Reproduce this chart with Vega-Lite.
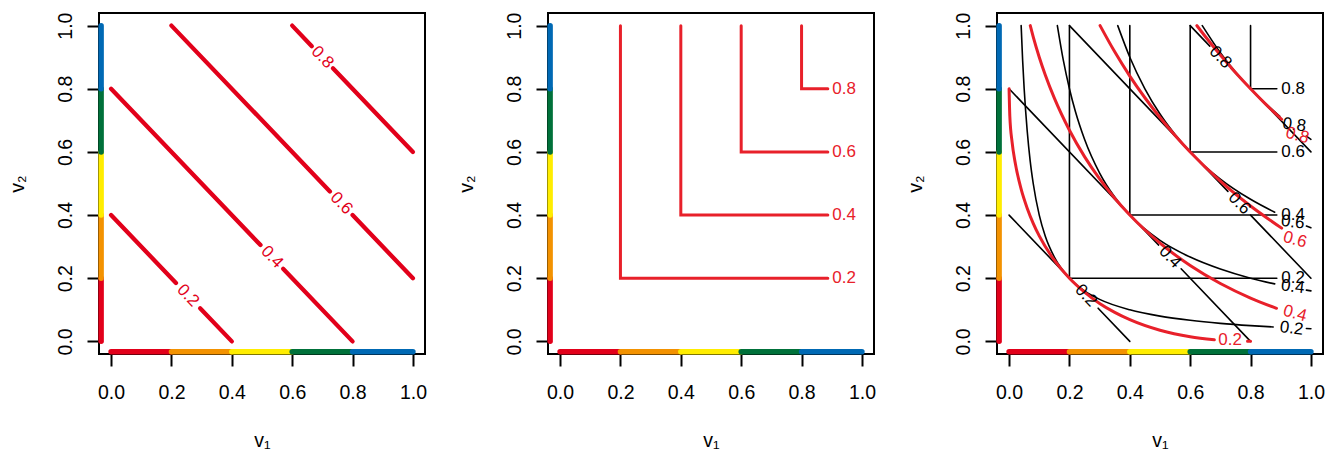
{
  "$schema": "https://vega.github.io/schema/vega-lite/v6.json",
  "background": "white",
  "padding": {"left": 6, "top": 11, "right": 5, "bottom": 0},
  "spacing": 123,
  "bounds": "flush",
  "datasets": {
    "rug": [
      {"lo": 0, "hi": 0.2, "band": "0.0–0.2"},
      {"lo": 0.2, "hi": 0.4, "band": "0.2–0.4"},
      {"lo": 0.4, "hi": 0.6, "band": "0.4–0.6"},
      {"lo": 0.6, "hi": 0.8, "band": "0.6–0.8"},
      {"lo": 0.8, "hi": 1, "band": "0.8–1.0"}
    ],
    "curves": [
      {"fam": "mean", "seg": "m2a", "x": 0, "y": 0.4}, {"fam": "mean", "seg": "m2a", "x": 0.215, "y": 0.185},
      {"fam": "mean", "seg": "m2b", "x": 0.295, "y": 0.105}, {"fam": "mean", "seg": "m2b", "x": 0.4, "y": 0},
      {"fam": "mean", "seg": "m4a", "x": 0, "y": 0.8}, {"fam": "mean", "seg": "m4a", "x": 0.495, "y": 0.305},
      {"fam": "mean", "seg": "m4b", "x": 0.57, "y": 0.23}, {"fam": "mean", "seg": "m4b", "x": 0.8, "y": 0},
      {"fam": "mean", "seg": "m6a", "x": 0.2, "y": 1}, {"fam": "mean", "seg": "m6a", "x": 0.725, "y": 0.475},
      {"fam": "mean", "seg": "m6b", "x": 0.8, "y": 0.4}, {"fam": "mean", "seg": "m6b", "x": 1, "y": 0.2},
      {"fam": "mean", "seg": "m8a", "x": 0.6, "y": 1}, {"fam": "mean", "seg": "m8a", "x": 0.665, "y": 0.935},
      {"fam": "mean", "seg": "m8b", "x": 0.735, "y": 0.865}, {"fam": "mean", "seg": "m8b", "x": 1, "y": 0.6},

      {"fam": "min", "seg": "n2", "i": 0, "x": 0.2, "y": 1}, {"fam": "min", "seg": "n2", "i": 1, "x": 0.2, "y": 0.2}, {"fam": "min", "seg": "n2", "i": 2, "x": 0.887, "y": 0.2},
      {"fam": "min", "seg": "n4", "i": 0, "x": 0.4, "y": 1}, {"fam": "min", "seg": "n4", "i": 1, "x": 0.4, "y": 0.4}, {"fam": "min", "seg": "n4", "i": 2, "x": 0.887, "y": 0.4},
      {"fam": "min", "seg": "n6", "i": 0, "x": 0.6, "y": 1}, {"fam": "min", "seg": "n6", "i": 1, "x": 0.6, "y": 0.6}, {"fam": "min", "seg": "n6", "i": 2, "x": 0.887, "y": 0.6},
      {"fam": "min", "seg": "n8", "i": 0, "x": 0.8, "y": 1}, {"fam": "min", "seg": "n8", "i": 1, "x": 0.8, "y": 0.8}, {"fam": "min", "seg": "n8", "i": 2, "x": 0.887, "y": 0.8},

      {"fam": "geo", "seg": "g2a", "x": 0.04, "y": 1}, {"fam": "geo", "seg": "g2a", "x": 0.045, "y": 0.889}, {"fam": "geo", "seg": "g2a", "x": 0.05, "y": 0.8},
      {"fam": "geo", "seg": "g2a", "x": 0.06, "y": 0.667}, {"fam": "geo", "seg": "g2a", "x": 0.07, "y": 0.571}, {"fam": "geo", "seg": "g2a", "x": 0.08, "y": 0.5},
      {"fam": "geo", "seg": "g2a", "x": 0.1, "y": 0.4}, {"fam": "geo", "seg": "g2a", "x": 0.12, "y": 0.333}, {"fam": "geo", "seg": "g2a", "x": 0.15, "y": 0.267},
      {"fam": "geo", "seg": "g2a", "x": 0.2, "y": 0.2}, {"fam": "geo", "seg": "g2a", "x": 0.25, "y": 0.16}, {"fam": "geo", "seg": "g2a", "x": 0.3, "y": 0.133},
      {"fam": "geo", "seg": "g2a", "x": 0.4, "y": 0.1}, {"fam": "geo", "seg": "g2a", "x": 0.5, "y": 0.08}, {"fam": "geo", "seg": "g2a", "x": 0.6, "y": 0.0667},
      {"fam": "geo", "seg": "g2a", "x": 0.7, "y": 0.0571}, {"fam": "geo", "seg": "g2a", "x": 0.8, "y": 0.05}, {"fam": "geo", "seg": "g2a", "x": 0.875, "y": 0.0457},
      {"fam": "geo", "seg": "g2b", "x": 0.985, "y": 0.0406}, {"fam": "geo", "seg": "g2b", "x": 1, "y": 0.04},
      {"fam": "geo", "seg": "g4a", "x": 0.16, "y": 1}, {"fam": "geo", "seg": "g4a", "x": 0.18, "y": 0.889}, {"fam": "geo", "seg": "g4a", "x": 0.2, "y": 0.8},
      {"fam": "geo", "seg": "g4a", "x": 0.22, "y": 0.727}, {"fam": "geo", "seg": "g4a", "x": 0.25, "y": 0.64}, {"fam": "geo", "seg": "g4a", "x": 0.3, "y": 0.533},
      {"fam": "geo", "seg": "g4a", "x": 0.35, "y": 0.457}, {"fam": "geo", "seg": "g4a", "x": 0.4, "y": 0.4}, {"fam": "geo", "seg": "g4a", "x": 0.5, "y": 0.32},
      {"fam": "geo", "seg": "g4a", "x": 0.6, "y": 0.267}, {"fam": "geo", "seg": "g4a", "x": 0.7, "y": 0.229}, {"fam": "geo", "seg": "g4a", "x": 0.8, "y": 0.2},
      {"fam": "geo", "seg": "g4a", "x": 0.88, "y": 0.182},
      {"fam": "geo", "seg": "g4b", "x": 0.985, "y": 0.1624}, {"fam": "geo", "seg": "g4b", "x": 1, "y": 0.16},
      {"fam": "geo", "seg": "g6a", "x": 0.36, "y": 1}, {"fam": "geo", "seg": "g6a", "x": 0.4, "y": 0.9}, {"fam": "geo", "seg": "g6a", "x": 0.45, "y": 0.8},
      {"fam": "geo", "seg": "g6a", "x": 0.5, "y": 0.72}, {"fam": "geo", "seg": "g6a", "x": 0.55, "y": 0.655}, {"fam": "geo", "seg": "g6a", "x": 0.6, "y": 0.6},
      {"fam": "geo", "seg": "g6a", "x": 0.7, "y": 0.514}, {"fam": "geo", "seg": "g6a", "x": 0.8, "y": 0.45}, {"fam": "geo", "seg": "g6a", "x": 0.88, "y": 0.409},
      {"fam": "geo", "seg": "g6b", "x": 0.985, "y": 0.3655}, {"fam": "geo", "seg": "g6b", "x": 1, "y": 0.36},
      {"fam": "geo", "seg": "g8a", "x": 0.64, "y": 1}, {"fam": "geo", "seg": "g8a", "x": 0.7, "y": 0.914}, {"fam": "geo", "seg": "g8a", "x": 0.75, "y": 0.853},
      {"fam": "geo", "seg": "g8a", "x": 0.8, "y": 0.8}, {"fam": "geo", "seg": "g8a", "x": 0.85, "y": 0.753}, {"fam": "geo", "seg": "g8a", "x": 0.897, "y": 0.713},
      {"fam": "geo", "seg": "g8b", "x": 0.985, "y": 0.65}, {"fam": "geo", "seg": "g8b", "x": 1, "y": 0.64},

      {"fam": "sqrt", "seg": "s2a", "x": 0, "y": 0.8}, {"fam": "sqrt", "seg": "s2a", "x": 0.0025, "y": 0.713}, {"fam": "sqrt", "seg": "s2a", "x": 0.01, "y": 0.631},
      {"fam": "sqrt", "seg": "s2a", "x": 0.02, "y": 0.567}, {"fam": "sqrt", "seg": "s2a", "x": 0.04, "y": 0.482}, {"fam": "sqrt", "seg": "s2a", "x": 0.06, "y": 0.422},
      {"fam": "sqrt", "seg": "s2a", "x": 0.08, "y": 0.374}, {"fam": "sqrt", "seg": "s2a", "x": 0.1, "y": 0.334}, {"fam": "sqrt", "seg": "s2a", "x": 0.15, "y": 0.257},
      {"fam": "sqrt", "seg": "s2a", "x": 0.2, "y": 0.2}, {"fam": "sqrt", "seg": "s2a", "x": 0.25, "y": 0.156}, {"fam": "sqrt", "seg": "s2a", "x": 0.3, "y": 0.12},
      {"fam": "sqrt", "seg": "s2a", "x": 0.35, "y": 0.0917}, {"fam": "sqrt", "seg": "s2a", "x": 0.4, "y": 0.0686}, {"fam": "sqrt", "seg": "s2a", "x": 0.5, "y": 0.0351},
      {"fam": "sqrt", "seg": "s2a", "x": 0.6, "y": 0.0144}, {"fam": "sqrt", "seg": "s2a", "x": 0.68, "y": 0.0049},
      {"fam": "sqrt", "seg": "s2b", "x": 0.79, "y": 0.0001}, {"fam": "sqrt", "seg": "s2b", "x": 0.8, "y": 0},
      {"fam": "sqrt", "seg": "s4", "x": 0.0702, "y": 1}, {"fam": "sqrt", "seg": "s4", "x": 0.08, "y": 0.9645}, {"fam": "sqrt", "seg": "s4", "x": 0.1, "y": 0.9},
      {"fam": "sqrt", "seg": "s4", "x": 0.12, "y": 0.8436}, {"fam": "sqrt", "seg": "s4", "x": 0.15, "y": 0.7702}, {"fam": "sqrt", "seg": "s4", "x": 0.2, "y": 0.6686},
      {"fam": "sqrt", "seg": "s4", "x": 0.25, "y": 0.5851}, {"fam": "sqrt", "seg": "s4", "x": 0.3, "y": 0.5144}, {"fam": "sqrt", "seg": "s4", "x": 0.35, "y": 0.4533},
      {"fam": "sqrt", "seg": "s4", "x": 0.4, "y": 0.4}, {"fam": "sqrt", "seg": "s4", "x": 0.5, "y": 0.3111}, {"fam": "sqrt", "seg": "s4", "x": 0.6, "y": 0.2404},
      {"fam": "sqrt", "seg": "s4", "x": 0.7, "y": 0.1834}, {"fam": "sqrt", "seg": "s4", "x": 0.8, "y": 0.1373}, {"fam": "sqrt", "seg": "s4", "x": 0.886, "y": 0.1047},
      {"fam": "sqrt", "seg": "s6", "x": 0.3015, "y": 1}, {"fam": "sqrt", "seg": "s6", "x": 0.35, "y": 0.917}, {"fam": "sqrt", "seg": "s6", "x": 0.4, "y": 0.8403},
      {"fam": "sqrt", "seg": "s6", "x": 0.45, "y": 0.7716}, {"fam": "sqrt", "seg": "s6", "x": 0.5, "y": 0.7091}, {"fam": "sqrt", "seg": "s6", "x": 0.55, "y": 0.6522},
      {"fam": "sqrt", "seg": "s6", "x": 0.6, "y": 0.6}, {"fam": "sqrt", "seg": "s6", "x": 0.7, "y": 0.5077}, {"fam": "sqrt", "seg": "s6", "x": 0.8, "y": 0.4288},
      {"fam": "sqrt", "seg": "s6", "x": 0.903, "y": 0.3587},
      {"fam": "sqrt", "seg": "s8", "x": 0.6222, "y": 1}, {"fam": "sqrt", "seg": "s8", "x": 0.65, "y": 0.9657}, {"fam": "sqrt", "seg": "s8", "x": 0.7, "y": 0.9067},
      {"fam": "sqrt", "seg": "s8", "x": 0.75, "y": 0.8517}, {"fam": "sqrt", "seg": "s8", "x": 0.8, "y": 0.8001}, {"fam": "sqrt", "seg": "s8", "x": 0.85, "y": 0.7515},
      {"fam": "sqrt", "seg": "s8", "x": 0.903, "y": 0.7033}
    ],
    "labels": [
      {"fam": "mean", "lev": 0.2, "x": 0.255, "y": 0.145},
      {"fam": "mean", "lev": 0.4, "x": 0.533, "y": 0.267},
      {"fam": "mean", "lev": 0.6, "x": 0.763, "y": 0.437},
      {"fam": "mean", "lev": 0.8, "x": 0.7, "y": 0.9},
      {"fam": "min", "lev": 0.2, "x": 0.941, "y": 0.2},
      {"fam": "min", "lev": 0.4, "x": 0.941, "y": 0.4},
      {"fam": "min", "lev": 0.6, "x": 0.941, "y": 0.6},
      {"fam": "min", "lev": 0.8, "x": 0.941, "y": 0.8},
      {"fam": "geo", "lev": 0.2, "x": 0.936, "y": 0.041},
      {"fam": "geo", "lev": 0.4, "x": 0.94, "y": 0.173},
      {"fam": "geo", "lev": 0.6, "x": 0.94, "y": 0.377},
      {"fam": "geo", "lev": 0.8, "x": 0.945, "y": 0.685},
      {"fam": "sqrt", "lev": 0.2, "x": 0.732, "y": 0.004},
      {"fam": "sqrt", "lev": 0.4, "x": 0.947, "y": 0.088},
      {"fam": "sqrt", "lev": 0.6, "x": 0.947, "y": 0.322},
      {"fam": "sqrt", "lev": 0.8, "x": 0.955, "y": 0.652}
    ]
  },
  "hconcat": [
    {
      "width": 326, "height": 341,
      "layer": [
        {"data": {"name": "rug"}, "mark": {"type": "rule", "strokeWidth": 5.5, "strokeCap": "round"},
         "encoding": {
           "x": {"field": "lo", "type": "quantitative", "scale": {"domain": [-0.04, 1.04], "nice": false, "zero": false}},
           "x2": {"field": "hi"},
           "y": {"datum": -0.033, "type": "quantitative", "scale": {"domain": [-0.04, 1.04], "nice": false, "zero": false}},
           "color": {"field": "band", "type": "nominal", "legend": null, "scale": {"domain": ["0.0–0.2", "0.2–0.4", "0.4–0.6", "0.6–0.8", "0.8–1.0"], "range": ["#E2001A", "#F39200", "#FFED00", "#00713A", "#0069B4"]}}}},
        {"data": {"name": "rug"}, "mark": {"type": "rule", "strokeWidth": 5.5, "strokeCap": "round"},
         "encoding": {
           "y": {"field": "lo", "type": "quantitative", "scale": {"domain": [-0.04, 1.04], "nice": false, "zero": false}},
           "y2": {"field": "hi"},
           "x": {"datum": -0.033, "type": "quantitative", "scale": {"domain": [-0.04, 1.04], "nice": false, "zero": false}},
           "color": {"field": "band", "type": "nominal", "legend": null, "scale": {"domain": ["0.0–0.2", "0.2–0.4", "0.4–0.6", "0.6–0.8", "0.8–1.0"], "range": ["#E2001A", "#F39200", "#FFED00", "#00713A", "#0069B4"]}}}},
        {"data": {"name": "curves"}, "transform": [{"filter": "datum.fam === 'mean'"}],
         "mark": {"type": "line", "color": "#E2001A", "strokeWidth": 4.3, "strokeCap": "round"},
         "encoding": {
           "x": {"field": "x", "type": "quantitative", "scale": {"domain": [-0.04, 1.04], "nice": false, "zero": false}, "axis": {"values": [0, 0.2, 0.4, 0.6, 0.8, 1], "format": ".1f", "title": "v₁"}},
           "y": {"field": "y", "type": "quantitative", "scale": {"domain": [-0.04, 1.04], "nice": false, "zero": false}, "axis": {"values": [0, 0.2, 0.4, 0.6, 0.8, 1], "format": ".1f", "title": "v₂"}},
           "detail": {"field": "seg"}}},
        {"data": {"name": "labels"}, "transform": [{"filter": "datum.fam === 'mean'"}],
         "mark": {"type": "text", "angle": 46, "fontSize": 17, "color": "#E2001A", "align": "center", "baseline": "middle"},
         "encoding": {
           "x": {"field": "x", "type": "quantitative", "scale": {"domain": [-0.04, 1.04], "nice": false, "zero": false}},
           "y": {"field": "y", "type": "quantitative", "scale": {"domain": [-0.04, 1.04], "nice": false, "zero": false}},
           "text": {"field": "lev", "type": "quantitative", "format": ".1f"}}}
      ]
    },
    {
      "width": 326, "height": 341,
      "layer": [
        {"data": {"name": "rug"}, "mark": {"type": "rule", "strokeWidth": 5.5, "strokeCap": "round"},
         "encoding": {
           "x": {"field": "lo", "type": "quantitative", "scale": {"domain": [-0.04, 1.04], "nice": false, "zero": false}},
           "x2": {"field": "hi"},
           "y": {"datum": -0.033, "type": "quantitative", "scale": {"domain": [-0.04, 1.04], "nice": false, "zero": false}},
           "color": {"field": "band", "type": "nominal", "legend": null, "scale": {"domain": ["0.0–0.2", "0.2–0.4", "0.4–0.6", "0.6–0.8", "0.8–1.0"], "range": ["#E2001A", "#F39200", "#FFED00", "#00713A", "#0069B4"]}}}},
        {"data": {"name": "rug"}, "mark": {"type": "rule", "strokeWidth": 5.5, "strokeCap": "round"},
         "encoding": {
           "y": {"field": "lo", "type": "quantitative", "scale": {"domain": [-0.04, 1.04], "nice": false, "zero": false}},
           "y2": {"field": "hi"},
           "x": {"datum": -0.033, "type": "quantitative", "scale": {"domain": [-0.04, 1.04], "nice": false, "zero": false}},
           "color": {"field": "band", "type": "nominal", "legend": null, "scale": {"domain": ["0.0–0.2", "0.2–0.4", "0.4–0.6", "0.6–0.8", "0.8–1.0"], "range": ["#E2001A", "#F39200", "#FFED00", "#00713A", "#0069B4"]}}}},
        {"data": {"name": "curves"}, "transform": [{"filter": "datum.fam === 'min'"}],
         "mark": {"type": "line", "color": "#E8202A", "strokeWidth": 3, "strokeCap": "round", "strokeJoin": "miter"},
         "encoding": {
           "x": {"field": "x", "type": "quantitative", "scale": {"domain": [-0.04, 1.04], "nice": false, "zero": false}, "axis": {"values": [0, 0.2, 0.4, 0.6, 0.8, 1], "format": ".1f", "title": "v₁"}},
           "y": {"field": "y", "type": "quantitative", "scale": {"domain": [-0.04, 1.04], "nice": false, "zero": false}, "axis": {"values": [0, 0.2, 0.4, 0.6, 0.8, 1], "format": ".1f", "title": "v₂"}},
           "detail": {"field": "seg"},
           "order": {"field": "i", "type": "quantitative"}}},
        {"data": {"name": "labels"}, "transform": [{"filter": "datum.fam === 'min'"}],
         "mark": {"type": "text", "fontSize": 17, "color": "#E8202A", "align": "center", "baseline": "middle"},
         "encoding": {
           "x": {"field": "x", "type": "quantitative", "scale": {"domain": [-0.04, 1.04], "nice": false, "zero": false}},
           "y": {"field": "y", "type": "quantitative", "scale": {"domain": [-0.04, 1.04], "nice": false, "zero": false}},
           "text": {"field": "lev", "type": "quantitative", "format": ".1f"}}}
      ]
    },
    {
      "width": 326, "height": 341,
      "layer": [
        {"data": {"name": "rug"}, "mark": {"type": "rule", "strokeWidth": 5.5, "strokeCap": "round"},
         "encoding": {
           "x": {"field": "lo", "type": "quantitative", "scale": {"domain": [-0.04, 1.04], "nice": false, "zero": false}},
           "x2": {"field": "hi"},
           "y": {"datum": -0.033, "type": "quantitative", "scale": {"domain": [-0.04, 1.04], "nice": false, "zero": false}},
           "color": {"field": "band", "type": "nominal", "legend": null, "scale": {"domain": ["0.0–0.2", "0.2–0.4", "0.4–0.6", "0.6–0.8", "0.8–1.0"], "range": ["#E2001A", "#F39200", "#FFED00", "#00713A", "#0069B4"]}}}},
        {"data": {"name": "rug"}, "mark": {"type": "rule", "strokeWidth": 5.5, "strokeCap": "round"},
         "encoding": {
           "y": {"field": "lo", "type": "quantitative", "scale": {"domain": [-0.04, 1.04], "nice": false, "zero": false}},
           "y2": {"field": "hi"},
           "x": {"datum": -0.033, "type": "quantitative", "scale": {"domain": [-0.04, 1.04], "nice": false, "zero": false}},
           "color": {"field": "band", "type": "nominal", "legend": null, "scale": {"domain": ["0.0–0.2", "0.2–0.4", "0.4–0.6", "0.6–0.8", "0.8–1.0"], "range": ["#E2001A", "#F39200", "#FFED00", "#00713A", "#0069B4"]}}}},
        {"data": {"name": "curves"}, "transform": [{"filter": "datum.fam === 'mean'"}],
         "mark": {"type": "line", "color": "black", "strokeWidth": 1.6, "strokeCap": "round"},
         "encoding": {
           "x": {"field": "x", "type": "quantitative", "scale": {"domain": [-0.04, 1.04], "nice": false, "zero": false}, "axis": {"values": [0, 0.2, 0.4, 0.6, 0.8, 1], "format": ".1f", "title": "v₁"}},
           "y": {"field": "y", "type": "quantitative", "scale": {"domain": [-0.04, 1.04], "nice": false, "zero": false}, "axis": {"values": [0, 0.2, 0.4, 0.6, 0.8, 1], "format": ".1f", "title": "v₂"}},
           "detail": {"field": "seg"}}},
        {"data": {"name": "curves"}, "transform": [{"filter": "datum.fam === 'min'"}],
         "mark": {"type": "line", "color": "black", "strokeWidth": 1.6, "strokeCap": "round", "strokeJoin": "miter"},
         "encoding": {
           "x": {"field": "x", "type": "quantitative", "scale": {"domain": [-0.04, 1.04], "nice": false, "zero": false}},
           "y": {"field": "y", "type": "quantitative", "scale": {"domain": [-0.04, 1.04], "nice": false, "zero": false}},
           "detail": {"field": "seg"},
           "order": {"field": "i", "type": "quantitative"}}},
        {"data": {"name": "curves"}, "transform": [{"filter": "datum.fam === 'geo'"}],
         "mark": {"type": "line", "color": "black", "strokeWidth": 1.6, "strokeCap": "round", "interpolate": "monotone"},
         "encoding": {
           "x": {"field": "x", "type": "quantitative", "scale": {"domain": [-0.04, 1.04], "nice": false, "zero": false}},
           "y": {"field": "y", "type": "quantitative", "scale": {"domain": [-0.04, 1.04], "nice": false, "zero": false}},
           "detail": {"field": "seg"}}},
        {"data": {"name": "curves"}, "transform": [{"filter": "datum.fam === 'sqrt'"}],
         "mark": {"type": "line", "color": "#E8202A", "strokeWidth": 3, "strokeCap": "round", "interpolate": "monotone"},
         "encoding": {
           "x": {"field": "x", "type": "quantitative", "scale": {"domain": [-0.04, 1.04], "nice": false, "zero": false}},
           "y": {"field": "y", "type": "quantitative", "scale": {"domain": [-0.04, 1.04], "nice": false, "zero": false}},
           "detail": {"field": "seg"}}},
        {"data": {"name": "labels"}, "transform": [{"filter": "datum.fam === 'mean'"}],
         "mark": {"type": "text", "angle": 46, "fontSize": 17, "color": "black", "align": "center", "baseline": "middle"},
         "encoding": {
           "x": {"field": "x", "type": "quantitative", "scale": {"domain": [-0.04, 1.04], "nice": false, "zero": false}},
           "y": {"field": "y", "type": "quantitative", "scale": {"domain": [-0.04, 1.04], "nice": false, "zero": false}},
           "text": {"field": "lev", "type": "quantitative", "format": ".1f"}}},
        {"data": {"name": "labels"}, "transform": [{"filter": "datum.fam === 'min'"}],
         "mark": {"type": "text", "fontSize": 17, "color": "black", "align": "center", "baseline": "middle"},
         "encoding": {
           "x": {"field": "x", "type": "quantitative", "scale": {"domain": [-0.04, 1.04], "nice": false, "zero": false}},
           "y": {"field": "y", "type": "quantitative", "scale": {"domain": [-0.04, 1.04], "nice": false, "zero": false}},
           "text": {"field": "lev", "type": "quantitative", "format": ".1f"}}},
        {"data": {"name": "labels"}, "transform": [{"filter": "datum.fam === 'geo'"}],
         "mark": {"type": "text", "angle": 7, "fontSize": 17, "color": "black", "align": "center", "baseline": "middle"},
         "encoding": {
           "x": {"field": "x", "type": "quantitative", "scale": {"domain": [-0.04, 1.04], "nice": false, "zero": false}},
           "y": {"field": "y", "type": "quantitative", "scale": {"domain": [-0.04, 1.04], "nice": false, "zero": false}},
           "text": {"field": "lev", "type": "quantitative", "format": ".1f"}}},
        {"data": {"name": "labels"}, "transform": [{"filter": "datum.fam === 'sqrt' && datum.lev > 0.3"}],
         "mark": {"type": "text", "angle": 15, "fontSize": 17, "color": "#E8202A", "align": "center", "baseline": "middle"},
         "encoding": {
           "x": {"field": "x", "type": "quantitative", "scale": {"domain": [-0.04, 1.04], "nice": false, "zero": false}},
           "y": {"field": "y", "type": "quantitative", "scale": {"domain": [-0.04, 1.04], "nice": false, "zero": false}},
           "text": {"field": "lev", "type": "quantitative", "format": ".1f"}}},
        {"data": {"name": "labels"}, "transform": [{"filter": "datum.fam === 'sqrt' && datum.lev < 0.3"}],
         "mark": {"type": "text", "fontSize": 17, "color": "#E8202A", "align": "center", "baseline": "middle"},
         "encoding": {
           "x": {"field": "x", "type": "quantitative", "scale": {"domain": [-0.04, 1.04], "nice": false, "zero": false}},
           "y": {"field": "y", "type": "quantitative", "scale": {"domain": [-0.04, 1.04], "nice": false, "zero": false}},
           "text": {"field": "lev", "type": "quantitative", "format": ".1f"}}}
      ]
    }
  ],
  "config": {
    "font": "Liberation Sans",
    "view": {"stroke": "black", "strokeWidth": 2},
    "text": {"font": "Liberation Sans"},
    "axis": {
      "grid": false, "domain": false,
      "tickColor": "black", "tickSize": 12, "tickWidth": 2,
      "labelFont": "Liberation Sans", "labelFontSize": 19.5, "labelColor": "black",
      "labelFlush": false, "labelOverlap": false,
      "titleFont": "Liberation Sans", "titleFontSize": 19.5, "titleFontWeight": "normal", "titleColor": "black"
    },
    "axisX": {"labelBaseline": "alphabetic", "labelPadding": 32, "titleX": 163, "titleY": 92, "titleBaseline": "alphabetic", "titleAlign": "center"},
    "axisY": {"labelAngle": -90, "labelAlign": "center", "labelBaseline": "alphabetic", "labelPadding": 16, "titleAngle": -90, "titleX": -76, "titleY": 170.5, "titleBaseline": "alphabetic", "titleAlign": "center"}
  }
}
